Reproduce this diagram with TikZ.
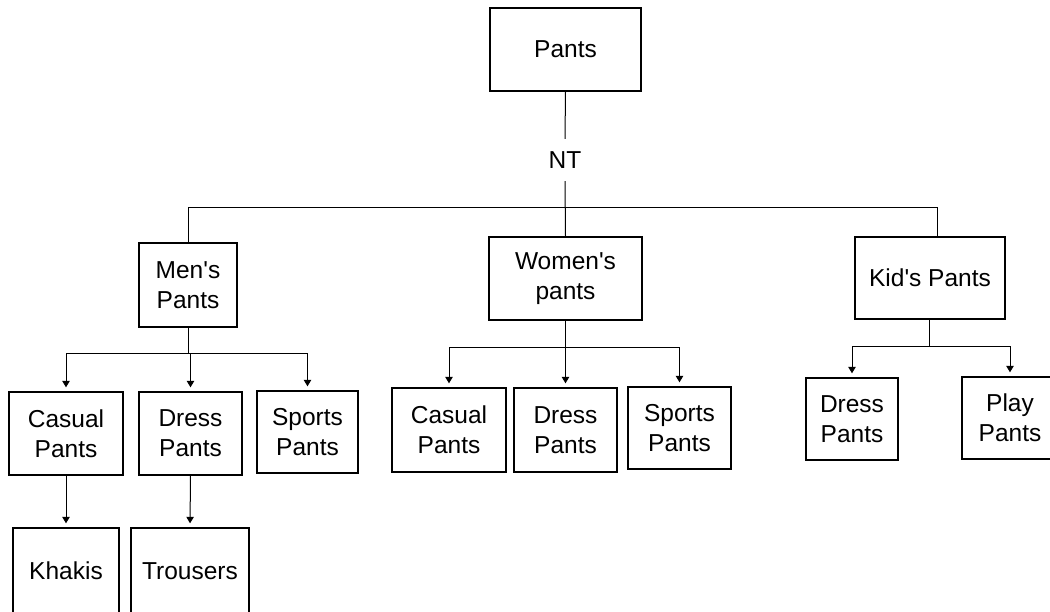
\documentclass[tikz,border=0pt]{standalone}
\usepackage{fontspec}
\setmainfont{Liberation Sans}
\usetikzlibrary{arrows.meta}
\newcommand{\apos}{\textquotesingle}
\begin{document}
\begin{tikzpicture}[x=1pt,y=-1pt,
  box/.style={draw=black,line width=1.4pt,rectangle,inner sep=0pt,align=center,
    font=\fontsize{24.5}{30}\selectfont},
  conn/.style={draw=black,line width=1pt},
  arr/.style={conn,-{Triangle[length=6.5pt,width=7.5pt]},shorten >=4pt}]
\useasboundingbox (0,0) rectangle (1050,611);
\clip (0,0) rectangle (1050,611);
\fill[white] (0,0) rectangle (1050,611);

% top level
\node[box,minimum width=151pt,minimum height=83pt] (pants) at (565.5,49.5) {Pants};
\node[font=\fontsize{24.5}{30}\selectfont,inner sep=0pt,minimum height=42pt] (nt) at (565,160) {NT};

% second level
\node[box,minimum width=98pt,minimum height=84pt] (men) at (188,285) {Men\apos s\\Pants};
\node[box,minimum width=153pt,minimum height=83pt] (women) at (565.5,278.5) {Women\apos s\\pants};
\node[box,minimum width=150pt,minimum height=82pt] (kids) at (930,278) {Kid\apos s Pants};

\coordinate (jm) at (188,207);
\coordinate (jk) at (937,207);

\draw[conn] (pants.south) -- (nt.north);
\draw[conn] (nt.south) -- (women.north);
\draw[conn] (jm) -- (jk);
\draw[conn] (jm) -- (men.north);
\draw[conn] (jk) -- (jk |- kids.north);

% men's children
\node[box,minimum width=114pt,minimum height=83pt] (mcas) at (66,433.5) {Casual\\Pants};
\node[box,minimum width=103pt,minimum height=83pt] (mdre) at (190.5,433.5) {Dress\\Pants};
\node[box,minimum width=101pt,minimum height=82pt] (mspo) at (307.5,432) {Sports\\Pants};

\coordinate (mh) at (188,353);
\draw[conn] (men.south) -- (mh);
\draw[conn] (mcas.north |- mh) -- (mspo.north |- mh);
\draw[arr] (mcas.north |- mh) -- (mcas.north);
\draw[arr] (mdre.north |- mh) -- (mdre.north);
\draw[arr] (mspo.north |- mh) -- (mspo.north);

% third level
\node[box,minimum width=106pt,minimum height=86pt] (khaki) at (66,571) {Khakis};
\node[box,minimum width=118pt,minimum height=86pt] (trous) at (190,571) {Trousers};
\draw[arr] (mcas.south) -- (khaki.north);
\draw[arr] (mdre.south) -- (trous.north);

% women's children
\node[box,minimum width=114pt,minimum height=84pt] (wcas) at (449,430) {Casual\\Pants};
\node[box,minimum width=103pt,minimum height=84pt] (wdre) at (565.5,430) {Dress\\Pants};
\node[box,minimum width=103pt,minimum height=82pt] (wspo) at (679.5,428) {Sports\\Pants};

\coordinate (wh) at (565.5,347);
\draw[conn] (women.south) -- (wh);
\draw[conn] (wcas.north |- wh) -- (wspo.north |- wh);
\draw[arr] (wcas.north |- wh) -- (wcas.north);
\draw[arr] (wdre.north |- wh) -- (wdre.north);
\draw[arr] (wspo.north |- wh) -- (wspo.north);

% kids' children
\node[box,minimum width=92pt,minimum height=82pt] (kdre) at (852,419) {Dress\\Pants};
\node[box,minimum width=96pt,minimum height=82pt] (kpla) at (1010,418) {Play\\Pants};

\coordinate (kh) at (929,346);
\draw[conn] (kids.south -| kh) -- (kh);
\draw[conn] (kdre.north |- kh) -- (kpla.north |- kh);
\draw[arr] (kdre.north |- kh) -- (kdre.north);
\draw[arr] (kpla.north |- kh) -- (kpla.north);
\end{tikzpicture}
\end{document}
